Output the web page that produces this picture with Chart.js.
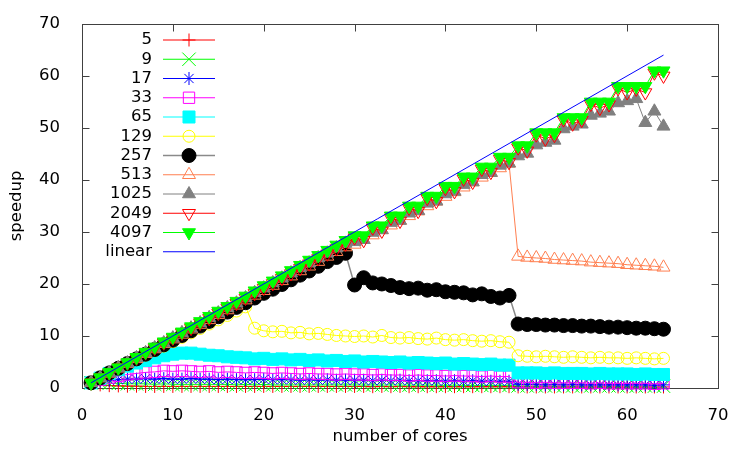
<!DOCTYPE html>
<html>
<head>
<meta charset="utf-8">
<title>speedup</title>
<script src="https://cdn.jsdelivr.net/npm/chart.js@4.4.0/dist/chart.umd.min.js"></script>
<style>
  html, body { margin: 0; padding: 0; background: #fff; }
  #wrap { width: 750px; height: 450px; }
</style>
</head>
<body>
<div id="wrap"><canvas id="speedupChart" width="750" height="450"></canvas></div>
<script>
// x values: number of cores
const cores = [
  1, 2, 3, 4, 5, 6, 7, 8, 9, 10, 11, 12, 13, 14, 15, 16,
  17, 18, 19, 20, 21, 22, 23, 24, 25, 26, 27, 28, 29, 30, 31, 32,
  33, 34, 35, 36, 37, 38, 39, 40, 41, 42, 43, 44, 45, 46, 47, 48,
  49, 50, 51, 52, 53, 54, 55, 56, 57, 58, 59, 60, 61, 62, 63, 64
];

// speedup per problem size
const s5 = [
  1.0, 0.6, 0.45, 0.4, 0.35, 0.35, 0.3, 0.3, 0.3, 0.3, 0.3, 0.3, 0.3, 0.3, 0.3, 0.3,
  0.3, 0.3, 0.3, 0.3, 0.3, 0.3, 0.3, 0.3, 0.3, 0.3, 0.3, 0.3, 0.3, 0.3, 0.3, 0.25,
  0.3, 0.25, 0.3, 0.25, 0.25, 0.25, 0.25, 0.25, 0.25, 0.25, 0.25, 0.25, 0.25, 0.25, 0.25, 0.2,
  0.2, 0.2, 0.2, 0.2, 0.2, 0.2, 0.2, 0.2, 0.2, 0.2, 0.2, 0.2, 0.2, 0.2, 0.2, 0.2
];
const s9 = [
  1.0, 1.0, 0.9, 0.9, 0.8, 0.8, 0.8, 0.7, 0.8, 0.7, 0.7, 0.7, 0.7, 0.7, 0.7, 0.7,
  0.6, 0.7, 0.6, 0.7, 0.6, 0.6, 0.6, 0.6, 0.6, 0.6, 0.6, 0.6, 0.6, 0.6, 0.55, 0.6,
  0.55, 0.6, 0.55, 0.55, 0.55, 0.55, 0.55, 0.5, 0.55, 0.5, 0.5, 0.5, 0.5, 0.5, 0.5, 0.4,
  0.4, 0.4, 0.4, 0.4, 0.4, 0.4, 0.4, 0.4, 0.4, 0.4, 0.4, 0.4, 0.35, 0.4, 0.35, 0.35
];
const s17 = [
  1.0, 1.3, 1.5, 1.6, 1.7, 1.7, 1.8, 1.7, 1.8, 1.7, 1.7, 1.8, 1.7, 1.7, 1.6, 1.7,
  1.6, 1.6, 1.6, 1.7, 1.6, 1.6, 1.6, 1.5, 1.6, 1.5, 1.6, 1.5, 1.5, 1.5, 1.5, 1.4,
  1.5, 1.4, 1.5, 1.4, 1.4, 1.4, 1.4, 1.3, 1.4, 1.3, 1.4, 1.3, 1.3, 1.3, 1.3, 0.7,
  0.7, 0.7, 0.6, 0.7, 0.6, 0.7, 0.6, 0.6, 0.6, 0.6, 0.6, 0.6, 0.6, 0.6, 0.5, 0.6
];
const s33 = [
  1.0, 1.6, 2.0, 2.3, 2.6, 2.8, 3.0, 3.1, 3.3, 3.2, 3.3, 3.2, 3.1, 3.2, 3.0, 3.1,
  3.0, 2.9, 3.0, 2.9, 2.8, 2.9, 2.8, 2.7, 2.8, 2.7, 2.7, 2.6, 2.7, 2.6, 2.6, 2.5,
  2.6, 2.5, 2.5, 2.4, 2.5, 2.4, 2.4, 2.3, 2.4, 2.3, 2.3, 2.2, 2.3, 2.2, 2.2, 1.1,
  1.1, 1.0, 1.1, 1.0, 1.0, 1.0, 1.0, 0.9, 1.0, 0.9, 0.9, 0.9, 0.9, 0.9, 0.8, 0.9
];
const s65 = [
  1.0, 1.9, 2.8, 3.5, 4.2, 4.8, 5.3, 5.8, 6.2, 6.5, 6.7, 6.7, 6.5, 6.3, 6.2, 6.0,
  5.9, 5.8, 5.6, 5.7, 5.5, 5.6, 5.4, 5.5, 5.3, 5.4, 5.2, 5.3, 5.1, 5.2, 5.0, 5.1,
  5.0, 4.9, 5.0, 4.8, 4.9, 4.8, 4.7, 4.8, 4.6, 4.7, 4.6, 4.5, 4.6, 4.4, 4.4, 2.9,
  2.9, 2.9, 2.8, 2.9, 2.8, 2.8, 2.8, 2.7, 2.8, 2.7, 2.7, 2.7, 2.6, 2.7, 2.6, 2.6
];
const s129 = [
  1.0, 1.95, 2.85, 3.75, 4.65, 5.5, 6.35, 7.2, 8.05, 8.9, 9.75, 10.6, 11.45, 12.3, 13.1, 13.95,
  14.8, 15.6, 11.5, 11.0, 10.8, 10.9, 10.6, 10.7, 10.4, 10.5, 10.3, 10.1, 10.0, 9.9, 10.0, 9.8,
  10.1, 9.7, 9.6, 9.7, 9.5, 9.4, 9.6, 9.3, 9.2, 9.3, 9.1, 9.0, 9.1, 8.9, 8.8, 6.2,
  6.1, 6.0, 6.1, 6.0, 5.9, 6.0, 5.9, 5.8, 5.9, 5.8, 5.8, 5.7, 5.8, 5.7, 5.6, 5.7
];
const s257 = [
  1.0, 1.95, 2.9, 3.8, 4.7, 5.6, 6.5, 7.4, 8.3, 9.2, 10.1, 11.0, 11.9, 12.8, 13.7, 14.6,
  15.5, 16.4, 17.3, 18.2, 19.0, 19.9, 20.8, 21.7, 22.5, 23.4, 24.3, 25.1, 25.9, 19.8, 21.2, 20.2,
  20.0, 19.7, 19.3, 19.1, 19.2, 18.8, 18.9, 18.5, 18.4, 18.3, 17.9, 18.1, 17.6, 17.3, 17.8, 12.3,
  12.2, 12.2, 12.1, 12.1, 12.0, 12.0, 11.9, 11.9, 11.8, 11.7, 11.7, 11.6, 11.5, 11.5, 11.4, 11.3
];
const s513 = [
  1.0, 1.9, 2.8, 3.8, 4.7, 5.6, 6.6, 7.5, 8.5, 9.4, 10.3, 11.3, 12.2, 13.1, 14.1, 15.0,
  15.9, 16.9, 17.8, 18.7, 19.7, 20.6, 21.5, 22.5, 23.4, 24.3, 25.3, 26.2, 27.1, 27.6, 28.5, 29.4,
  30.4, 31.3, 32.2, 33.1, 34.0, 35.0, 35.9, 36.8, 37.7, 38.6, 39.6, 40.5, 41.4, 42.3, 43.2, 25.3,
  25.1, 25.0, 24.9, 24.7, 24.6, 24.5, 24.4, 24.2, 24.1, 24.0, 23.9, 23.7, 23.6, 23.5, 23.4, 23.2
];
const s1025 = [
  1.0, 1.95, 2.9, 3.85, 4.8, 5.8, 6.75, 7.7, 8.65, 9.6, 10.6, 11.5, 12.5, 13.5, 14.4, 15.4,
  16.3, 17.3, 18.3, 19.2, 20.2, 21.1, 22.1, 23.1, 24.0, 25.0, 25.9, 26.9, 27.8, 28.1, 28.5, 29.9,
  30.4, 31.8, 32.2, 33.6, 34.1, 35.5, 35.9, 37.3, 37.8, 39.1, 39.6, 41.0, 41.4, 42.8, 43.2, 44.6,
  45.1, 46.7, 47.2, 47.6, 49.8, 50.3, 50.7, 52.4, 52.8, 53.2, 54.8, 55.2, 55.6, 51.0, 53.2, 50.3
];
const s2049 = [
  1.0, 2.0, 2.9, 3.9, 4.8, 5.8, 6.8, 7.7, 8.7, 9.6, 10.6, 11.5, 12.5, 13.4, 14.4, 15.4,
  16.3, 17.3, 18.2, 19.2, 20.1, 21.1, 22.0, 23.0, 23.9, 24.9, 25.8, 26.8, 27.7, 28.9, 28.4, 30.8,
  30.2, 32.7, 32.1, 34.6, 34.0, 36.5, 35.9, 38.4, 37.8, 40.2, 39.6, 42.1, 41.5, 44.0, 43.4, 46.2,
  45.6, 48.7, 47.9, 48.6, 51.6, 50.8, 51.5, 54.6, 53.8, 54.5, 57.6, 56.8, 57.5, 56.8, 60.6, 60.0
];
const s4097 = [
  1.0, 2.0, 3.0, 3.9, 4.9, 5.9, 6.9, 7.9, 8.9, 9.8, 10.8, 11.8, 12.8, 13.8, 14.8, 15.7,
  16.7, 17.7, 18.7, 19.7, 20.6, 21.6, 22.6, 23.6, 24.6, 25.5, 26.5, 27.5, 28.4, 29.3, 29.3, 31.2,
  31.2, 33.1, 33.1, 35.0, 35.0, 36.9, 36.9, 38.8, 38.8, 40.6, 40.6, 42.5, 42.5, 44.4, 44.4, 46.6,
  46.6, 49.1, 49.1, 49.1, 52.0, 52.0, 52.0, 55.0, 55.0, 55.0, 58.0, 58.0, 58.0, 58.0, 61.0, 61.0
];
const linearX = [1, 64];
const linearY = [1, 64];

const axisTicks = [0, 10, 20, 30, 40, 50, 60, 70];

const FONT = "DejaVu Sans";

// gnuplot-like styles: colour, point type, size
const series = [
  { label: "5", values: s5, color: "#ff0000", style: "cross", radius: 6.5 },
  { label: "9", values: s9, color: "#00ff00", style: "crossRot", radius: 9.5 },
  { label: "17", values: s17, color: "#0000ff", style: "star", radius: 6.5 },
  { label: "33", values: s33, color: "#ff00ff", style: "rect", radius: 8 },
  { label: "65", values: s65, color: "#00ffff", style: "rect", radius: 8.5, filled: true },
  { label: "129", values: s129, color: "#ffff00", style: "circle", radius: 6 },
  { label: "257", values: s257, color: "#000000", line: "#8a8a8a", lineWidth: 1.5, style: "circle", radius: 7, filled: true },
  { label: "513", values: s513, color: "#ff7f50", style: "triangle", radius: 7.5 },
  { label: "1025", values: s1025, color: "#808080", style: "triangle", radius: 7.5, filled: true },
  { label: "2049", values: s2049, color: "#ff0000", style: "triangle", rotation: 180, radius: 7.5 },
  { label: "4097", values: s4097, color: "#00ff00", style: "triangle", rotation: 180, radius: 7.5, filled: true },
];

const datasets = series.map((s, i) => ({
  label: s.label,
  data: s.values.map((v, j) => ({ x: cores[j], y: v })),
  borderColor: s.line || s.color,
  borderWidth: s.lineWidth || 1,
  pointStyle: s.style,
  pointRadius: s.radius,
  pointHoverRadius: s.radius,
  pointRotation: s.rotation || 0,
  pointBorderColor: s.color,
  pointBackgroundColor: s.filled ? s.color : "rgba(0,0,0,0)",
  pointBorderWidth: 1,
  tension: 0,
  clip: 12,
  order: 20 - i,
}));

datasets.push({
  label: "linear",
  data: linearX.map((x, j) => ({ x: x, y: linearY[j] })),
  borderColor: "#0000ff",
  borderWidth: 1,
  pointRadius: 0,
  tension: 0,
  clip: 12,
  order: 0,
});

// gnuplot style border with inward ticks on all four sides
const frameTicks = {
  id: "frameTicks",
  beforeDatasetsDraw(chart) {
    const { ctx, chartArea: a, scales } = chart;
    ctx.save();
    ctx.strokeStyle = "#404040";
    ctx.lineWidth = 1;
    const L = Math.round(a.left) + 0.5, R = Math.round(a.right) + 0.5;
    const T = Math.round(a.top) + 0.5, B = Math.round(a.bottom) + 0.5;
    ctx.strokeRect(L, T, R - L, B - T);
    ctx.beginPath();
    axisTicks.forEach((v) => {
      const px = Math.round(scales.x.getPixelForValue(v)) + 0.5;
      ctx.moveTo(px, B); ctx.lineTo(px, B - 7);
      ctx.moveTo(px, T); ctx.lineTo(px, T + 7);
      const py = Math.round(scales.y.getPixelForValue(v)) + 0.5;
      ctx.moveTo(L, py); ctx.lineTo(L + 7, py);
      ctx.moveTo(R, py); ctx.lineTo(R - 7, py);
    });
    ctx.stroke();
    ctx.restore();
  },
};

// key in the upper left: right aligned labels, sample line with marker
const keyLegend = {
  id: "keyLegend",
  afterDraw(chart) {
    const ctx = chart.ctx;
    ctx.save();
    ctx.font = "16.5px '" + FONT + "'";
    ctx.textAlign = "right";
    ctx.textBaseline = "middle";
    chart.data.datasets.forEach((ds, i) => {
      const y = 40 + i * 19.25;
      ctx.fillStyle = "#000";
      ctx.fillText(ds.label, 152, y);
      ctx.strokeStyle = ds.borderColor;
      ctx.lineWidth = ds.borderWidth;
      ctx.beginPath();
      ctx.moveTo(163, y);
      ctx.lineTo(215, y);
      ctx.stroke();
      if (ds.pointRadius > 0 && Chart.helpers && Chart.helpers.drawPoint) {
        ctx.strokeStyle = ds.pointBorderColor;
        ctx.fillStyle = ds.pointBackgroundColor;
        ctx.lineWidth = 1;
        Chart.helpers.drawPoint(ctx, {
          pointStyle: ds.pointStyle,
          rotation: ds.pointRotation,
          radius: ds.pointRadius,
          borderWidth: 1,
        }, 189, y);
      }
    });
    ctx.restore();
  },
};

const tickFont = { family: FONT, size: 16.5 };

new Chart(document.getElementById("speedupChart"), {
  type: "line",
  data: { datasets: datasets },
  plugins: [frameTicks, keyLegend],
  options: {
    responsive: false,
    animation: false,
    events: [],
    layout: { padding: { top: 22, right: 32, left: 0, bottom: 0 } },
    plugins: {
      legend: { display: false },
      tooltip: { enabled: false },
    },
    scales: {
      x: {
        type: "linear",
        min: 0,
        max: 70,
        afterFit: (scale) => { scale.height = 62; },
        afterBuildTicks: (scale) => { scale.ticks = axisTicks.map((v) => ({ value: v })); },
        grid: { display: false },
        border: { display: false },
        ticks: { color: "#000", font: tickFont, padding: 10, maxRotation: 0 },
        title: {
          display: true,
          text: "number of cores",
          color: "#000",
          font: tickFont,
          padding: { top: 0, bottom: 3 },
        },
      },
      y: {
        type: "linear",
        min: 0,
        max: 70,
        afterFit: (scale) => { scale.width = 82; },
        afterBuildTicks: (scale) => { scale.ticks = axisTicks.map((v) => ({ value: v })); },
        grid: { display: false },
        border: { display: false },
        ticks: { color: "#000", font: tickFont, padding: 14 },
        title: {
          display: true,
          text: "speedup",
          color: "#000",
          font: tickFont,
          padding: { top: 7, bottom: 0 },
        },
      },
    },
  },
});
</script>
</body>
</html>
